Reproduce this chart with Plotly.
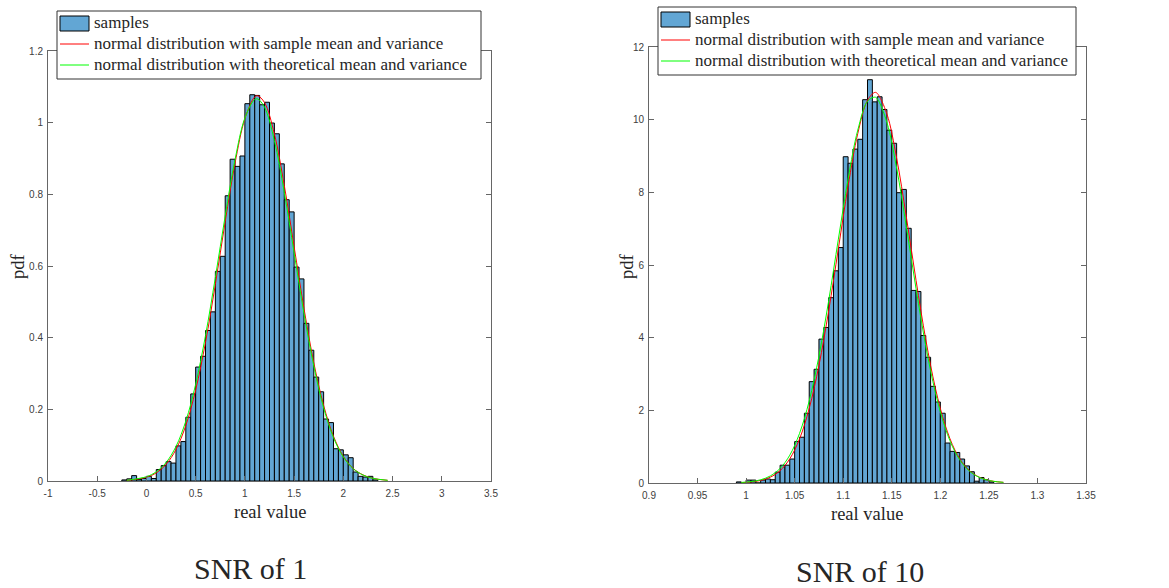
import plotly.graph_objects as go

# ---------------- data ----------------
# Left panel: SNR of 1  (bin width 0.05)
left_centers = [-0.225, -0.175, -0.125, -0.075, -0.025, 0.025, 0.075, 0.125, 0.175, 0.225,
                0.275, 0.325, 0.375, 0.425, 0.475, 0.525, 0.575, 0.625, 0.675, 0.725,
                0.775, 0.825, 0.875, 0.925, 0.975, 1.025, 1.075, 1.125, 1.175, 1.225,
                1.275, 1.325, 1.375, 1.425, 1.475, 1.525, 1.575, 1.625, 1.675, 1.725,
                1.775, 1.825, 1.875, 1.925, 1.975, 2.025, 2.075, 2.125, 2.175, 2.225,
                2.275, 2.325]
left_pdf = [0.003, 0.006, 0.015, 0.004, 0.007, 0.013, 0.007, 0.032, 0.043, 0.054,
            0.050, 0.098, 0.110, 0.178, 0.243, 0.318, 0.348, 0.420, 0.472, 0.585,
            0.627, 0.796, 0.898, 0.878, 0.907, 1.053, 1.078, 1.076, 1.050, 1.057,
            0.999, 0.969, 0.885, 0.785, 0.751, 0.597, 0.564, 0.440, 0.365, 0.290,
            0.249, 0.173, 0.163, 0.090, 0.087, 0.073, 0.065, 0.025, 0.013, 0.011,
            0.013, 0.003]
left_bin_width = 0.05

left_curve_x = [-0.2, 0.0, 0.1, 0.2, 0.3, 0.4, 0.5, 0.6, 0.7, 0.8, 0.9, 1.0, 1.1, 1.13,
                1.2, 1.3, 1.4, 1.5, 1.6, 1.7, 1.8, 1.9, 2.0, 2.1, 2.2, 2.3, 2.45]
left_red = [0.0017, 0.0104, 0.0228, 0.0465, 0.088, 0.155, 0.254, 0.387, 0.549, 0.724,
            0.887, 1.011, 1.072, 1.075, 1.056, 0.968, 0.825, 0.654, 0.482, 0.330,
            0.211, 0.125, 0.069, 0.035, 0.017, 0.0074, 0.0019]
left_green = [0.0021, 0.0120, 0.0259, 0.0517, 0.0963, 0.167, 0.270, 0.406, 0.568, 0.740,
              0.897, 1.013, 1.065, 1.066, 1.043, 0.950, 0.806, 0.637, 0.468, 0.321,
              0.204, 0.121, 0.067, 0.0344, 0.0165, 0.0074, 0.0019]

# Right panel: SNR of 10  (bin width 0.005)
right_centers = [0.9925, 0.9975, 1.0025, 1.0075, 1.0125, 1.0175, 1.0225, 1.0275, 1.0325, 1.0375,
                 1.0425, 1.0475, 1.0525, 1.0575, 1.0625, 1.0675, 1.0725, 1.0775, 1.0825, 1.0875,
                 1.0925, 1.0975, 1.1025, 1.1075, 1.1125, 1.1175, 1.1225, 1.1275, 1.1325, 1.1375,
                 1.1425, 1.1475, 1.1525, 1.1575, 1.1625, 1.1675, 1.1725, 1.1775, 1.1825, 1.1875,
                 1.1925, 1.1975, 1.2025, 1.2075, 1.2125, 1.2175, 1.2225, 1.2275, 1.2325, 1.2375,
                 1.2425, 1.2475, 1.2525]
right_pdf = [0.03, 0.0, 0.08, 0.08, 0.0, 0.08, 0.11, 0.09, 0.30, 0.49,
             0.49, 0.66, 1.14, 1.26, 1.92, 2.79, 3.13, 3.96, 4.28, 5.10,
             5.84, 6.48, 8.98, 8.80, 9.19, 9.46, 10.55, 11.10, 10.49, 10.63,
             10.28, 9.71, 9.35, 7.99, 8.08, 7.01, 5.30, 5.27, 4.06, 3.46,
             2.66, 2.23, 1.92, 1.10, 0.87, 0.84, 0.66, 0.47, 0.31, 0.05,
             0.15, 0.09, 0.03]
right_bin_width = 0.005

right_curve_x = [0.995, 1.005, 1.015, 1.025, 1.035, 1.045, 1.055, 1.065, 1.075, 1.085,
                 1.095, 1.105, 1.115, 1.125, 1.1325, 1.135, 1.145, 1.155, 1.165, 1.175,
                 1.185, 1.195, 1.205, 1.215, 1.225, 1.235, 1.245, 1.255, 1.265]
right_red = [0.011, 0.029, 0.071, 0.161, 0.340, 0.667, 1.212, 2.054, 3.235, 4.737,
             6.451, 8.168, 9.619, 10.533, 10.75, 10.725, 10.157, 8.945, 7.325, 5.577,
             3.950, 2.600, 1.592, 0.907, 0.480, 0.237, 0.108, 0.046, 0.018]
right_green = [0.015, 0.038, 0.089, 0.196, 0.401, 0.767, 1.364, 2.261, 3.490, 5.014,
               6.712, 8.367, 9.714, 10.505, 10.62, 10.579, 9.924, 8.669, 7.054, 5.346,
               3.773, 2.480, 1.518, 0.865, 0.460, 0.228, 0.105, 0.045, 0.018]

left_xticks = [-1, -0.5, 0, 0.5, 1, 1.5, 2, 2.5, 3, 3.5]
left_xticktext = ["-1", "-0.5", "0", "0.5", "1", "1.5", "2", "2.5", "3", "3.5"]
left_yticks = [0, 0.2, 0.4, 0.6, 0.8, 1, 1.2]
left_yticktext = ["0", "0.2", "0.4", "0.6", "0.8", "1", "1.2"]
right_xticks = [0.9, 0.95, 1, 1.05, 1.1, 1.15, 1.2, 1.25, 1.3, 1.35]
right_xticktext = ["0.9", "0.95", "1", "1.05", "1.1", "1.15", "1.2", "1.25", "1.3", "1.35"]
right_yticks = [0, 2, 4, 6, 8, 10, 12]
right_yticktext = ["0", "2", "4", "6", "8", "10", "12"]

names = ["samples",
         "normal distribution with sample mean and variance",
         "normal distribution with theoretical mean and variance"]

# ---------------- styling ----------------
W, H = 1169, 588
BAR = "rgb(98,166,212)"
SERIF = "Liberation Serif"
SANS = "Liberation Sans"
AXC = "#666666"
TXT = "#262626"

fig = go.Figure()

def add_panel(xa, ya, centers, pdf, bw, cx, red, green):
    fig.add_trace(go.Bar(x=centers, y=pdf, width=bw, name=names[0],
                         marker=dict(color=BAR, line=dict(color="black", width=1)),
                         xaxis=xa, yaxis=ya))
    fig.add_trace(go.Scatter(x=cx, y=red, mode="lines", name=names[1],
                             line=dict(color="#ff0000", width=1, shape="spline"),
                             xaxis=xa, yaxis=ya))
    fig.add_trace(go.Scatter(x=cx, y=green, mode="lines", name=names[2],
                             line=dict(color="#00ff00", width=1, shape="spline"),
                             xaxis=xa, yaxis=ya))

add_panel("x", "y", left_centers, left_pdf, left_bin_width,
          left_curve_x, left_red, left_green)
add_panel("x2", "y2", right_centers, right_pdf, right_bin_width,
          right_curve_x, right_red, right_green)

def px_x(p):
    return p / W

def px_y(p):
    return 1 - p / H

axis_common = dict(showline=True, linecolor=AXC, linewidth=1, mirror="ticks",
                   ticks="inside", ticklen=5, tickcolor=AXC, tickwidth=1,
                   showgrid=False, zeroline=False, automargin=False,
                   tickfont=dict(family=SANS, size=10, color="#404040"))
xaxis_common = dict(ticklabelstandoff=3, **axis_common)
yaxis_common = dict(ticklabelstandoff=2, **axis_common)

fig.update_layout(
    width=W, height=H,
    margin=dict(l=0, r=0, t=0, b=0),
    paper_bgcolor="white", plot_bgcolor="white",
    barmode="overlay",
    showlegend=False,
    xaxis=dict(domain=[px_x(48), px_x(491)], range=[-1, 3.5], anchor="y",
               tickvals=left_xticks, ticktext=left_xticktext, **xaxis_common),
    yaxis=dict(domain=[px_y(481), px_y(51)], range=[0, 1.2], anchor="x",
               tickvals=left_yticks, ticktext=left_yticktext, **yaxis_common),
    xaxis2=dict(domain=[px_x(649), px_x(1086)], range=[0.9, 1.35], anchor="y2",
                tickvals=right_xticks, ticktext=right_xticktext, **xaxis_common),
    yaxis2=dict(domain=[px_y(483), px_y(47)], range=[0, 12], anchor="x2",
                tickvals=right_yticks, ticktext=right_yticktext, **yaxis_common),
)

# ---------------- legends (drawn as boxes + real text) ----------------
def add_legend(box, patch, row_y, text_x):
    x0, y0, x1, y1 = box
    fig.add_shape(type="rect", xref="paper", yref="paper", layer="above",
                  x0=px_x(x0), x1=px_x(x1), y0=px_y(y1), y1=px_y(y0),
                  line=dict(color="#333333", width=1), fillcolor="white")
    px0, py0, px1, py1 = patch
    fig.add_shape(type="rect", xref="paper", yref="paper", layer="above",
                  x0=px_x(px0), x1=px_x(px1), y0=px_y(py1), y1=px_y(py0),
                  line=dict(color="black", width=1), fillcolor=BAR)
    for yy, col in [(row_y[1], "#ff0000"), (row_y[2], "#00ff00")]:
        fig.add_shape(type="line", xref="paper", yref="paper", layer="above",
                      x0=px_x(px0), x1=px_x(px1), y0=px_y(yy), y1=px_y(yy),
                      line=dict(color=col, width=1))
    for yy, t in zip(row_y, names):
        fig.add_annotation(text=t, x=px_x(text_x), y=px_y(yy), xref="paper", yref="paper",
                           xanchor="left", yanchor="middle", showarrow=False,
                           font=dict(family=SERIF, size=17, color=TXT))

add_legend((57, 11, 481, 79), (60, 16, 89, 31), (23, 44, 65), 92)
add_legend((658, 7, 1076, 75), (661, 12, 690, 27), (19, 40, 61), 693)

annots = [
    dict(text="real value", x=px_x(270), y=px_y(512), size=18.5, angle=0),
    dict(text="real value", x=px_x(867), y=px_y(514), size=18.5, angle=0),
    dict(text="pdf", x=px_x(18), y=px_y(266), size=18.5, angle=-90),
    dict(text="pdf", x=px_x(627), y=px_y(266), size=18.5, angle=-90),
    dict(text="SNR of 1", x=px_x(250), y=px_y(568), size=30, angle=0),
    dict(text="SNR of 10", x=px_x(860), y=px_y(571), size=30, angle=0),
]
for a in annots:
    fig.add_annotation(text=a["text"], x=a["x"], y=a["y"], xref="paper", yref="paper",
                       xanchor="center", yanchor="middle", showarrow=False,
                       textangle=a["angle"],
                       font=dict(family=SERIF, size=a["size"], color=TXT))

fig.write_html("out.html")
